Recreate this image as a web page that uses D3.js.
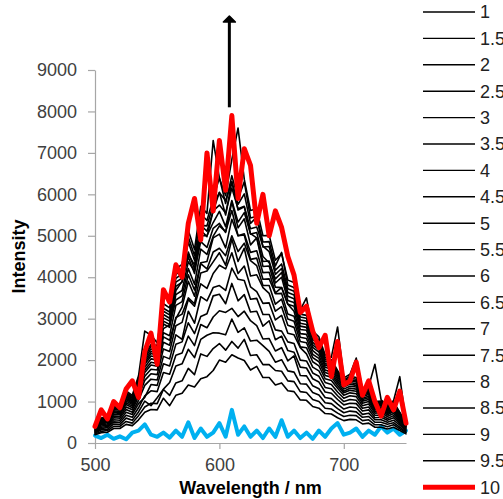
<!DOCTYPE html>
<html>
<head>
<meta charset="utf-8">
<script src="https://cdn.jsdelivr.net/npm/d3@7"></script>
<style>
  body { margin: 0; background: #fff; }
  svg { font-family: "Liberation Sans", Arial, sans-serif; }
</style>
</head>
<body>
<svg id="chart"></svg>
<script>
const wavelength = [500,505,510,515,520,525,530,535,540,545,550,555,560,565,570,575,580,585,590,595,600,605,610,615,620,625,630,635,640,645,650,655,660,665,670,675,680,685,690,695,700,705,710,715,720,725,730,735,740,745,750];

const int_0 = [180,120,200,100,160,90,250,300,450,200,150,250,130,300,150,500,120,350,150,250,480,150,800,200,400,150,300,120,350,150,550,150,300,120,250,100,300,150,350,480,200,250,350,150,300,200,400,250,350,200,300];
const int_1 = [200,250,260,350,350,450,420,560,740,810,800,1080,900,1150,1200,1400,1350,1550,1600,1750,2000,1950,2130,2050,1990,1760,1850,1580,1580,1400,1450,1260,1240,1040,1030,880,840,710,700,610,540,570,560,460,480,380,380,340,380,300,220];
const int_1_5 = [220,280,300,400,400,520,480,660,870,960,950,1290,1150,1450,1500,1800,1650,2150,2090,2280,2400,2240,2450,2290,2500,2110,2130,1890,1890,1750,1730,1500,1480,1240,1220,1050,1000,840,820,720,640,670,660,540,560,440,440,390,440,340,250];
const int_2 = [240,320,330,460,450,600,550,750,1010,900,1090,1300,1460,1860,1910,2260,2060,2500,2600,2660,2650,2610,2990,2670,2780,2460,2480,2350,2210,1950,2010,1740,1710,1430,1420,1220,1160,970,950,830,730,770,750,620,640,500,500,450,490,380,270];
const int_2_5 = [260,350,370,510,500,670,620,850,1140,1260,1240,1700,1660,2120,2170,2580,2350,2860,2780,3040,3190,3150,3250,3050,3180,2950,2830,2510,2520,2220,2300,1980,2100,1630,1620,1380,1310,1100,1070,940,820,870,850,690,720,560,560,500,550,430,300];
const int_3 = [280,380,400,560,550,740,690,950,1100,1410,1390,1910,1860,2380,2440,2900,2640,3050,3120,3550,3590,3360,3850,3430,3580,3160,3180,2820,2950,2490,2580,2230,2190,1830,1810,1550,1470,1230,1200,1050,920,960,950,770,800,610,620,550,610,470,320];
const int_3_5 = [290,410,430,610,600,810,740,1030,1390,1540,1520,2090,2030,2610,2500,3180,2890,3530,3430,3750,3800,3680,4220,3950,3920,3470,3490,3100,3100,2730,2700,2440,2400,2000,1980,1690,1610,1340,1310,1140,1000,1050,1030,840,870,670,670,590,660,500,350];
const int_4 = [310,440,460,650,640,870,800,1120,1510,1670,1650,2270,2210,2830,2910,3460,3300,3840,3730,4090,4290,4200,4590,4090,4270,3770,3650,3370,3380,2970,3080,2650,2610,2300,2150,1830,1740,1460,1410,1230,1080,1140,1120,900,940,720,730,640,710,540,370];
const int_4_5 = [320,460,490,690,680,930,850,1190,1610,1780,1760,2430,2360,3030,3110,3500,3360,4100,4150,4370,4590,4290,4920,4380,4700,4030,4060,3750,3610,3180,3290,2840,2790,2320,2300,1960,1860,1550,1510,1320,1150,1210,1190,960,1000,760,770,680,760,570,390];
const int_5 = [340,480,510,730,710,970,890,1250,1700,1880,1850,2560,2480,3000,3280,3900,3540,4330,4200,4610,4700,4520,5000,4620,4820,4400,4280,3800,3800,3350,3470,2990,2940,2450,2420,2060,1960,1630,1590,1380,1210,1270,1250,1010,1050,800,810,710,790,600,400];
const int_5_5 = [350,500,530,750,740,1010,930,1300,1760,1950,1920,2660,2590,3320,3410,4060,3690,4350,4380,4950,5040,4710,5400,5000,5020,4430,4460,3950,3960,3600,3610,3110,3060,2550,2520,2140,2040,1700,1650,1440,1250,1320,1300,1050,1090,830,840,730,820,620,420];
const int_6 = [360,510,540,780,760,1050,960,1350,1830,2030,2000,2760,2850,3450,3550,4210,3830,4680,4550,4990,5240,5100,5610,5000,5050,4600,4640,4110,4120,3620,3750,3350,3180,2640,2620,2230,2110,1760,1710,1490,1300,1370,1350,1080,1130,860,870,760,850,640,430];
const int_6_5 = [370,530,560,810,790,1080,990,1400,1900,2100,2070,2870,2790,3580,3680,4370,4150,4860,4720,5180,5300,5080,5820,5190,5410,4780,4950,4260,4270,3760,3750,3350,3300,2740,2720,2310,2190,1830,1780,1540,1350,1420,1390,1120,1170,890,900,790,880,660,440];
const int_7 = [380,540,570,830,810,1110,1020,1430,1950,2160,2120,2940,2860,3680,3900,4490,4090,5000,5000,5320,5590,5220,5850,5330,5560,5050,4950,4380,4390,3860,4000,3440,3390,2820,2790,2370,2250,1880,1820,1590,1380,1460,1430,1150,1200,910,920,800,900,680,450];
const int_7_5 = [380,550,590,850,830,1140,1040,1470,2000,2210,2180,3020,2940,3780,3880,4610,4200,5130,4980,5600,5740,5550,6150,5650,5710,5040,5080,4500,4350,3960,4110,3540,3480,2890,2860,2430,2310,1920,1870,1630,1420,1500,1470,1180,1230,930,940,820,920,690,460];
const int_8 = [390,560,600,870,850,1170,1070,1500,2050,2270,2230,3100,3010,3880,3980,4550,4300,5260,5110,5600,6050,5500,6310,5620,5700,5170,5210,4750,4620,4070,4210,3630,3570,2970,2940,2500,2370,1970,1920,1670,1450,1530,1500,1210,1260,950,960,840,950,710,470];
const int_8_5 = [400,580,610,890,870,1200,1090,1540,2100,2330,2290,3180,3090,3970,4080,4850,4410,5250,5240,5750,6040,5850,6300,5760,6010,5300,5450,4730,4740,4170,4320,3720,3660,3040,3010,2560,2430,2020,1960,1710,1490,1570,1540,1240,1290,980,990,860,970,730,480];
const int_9 = [410,590,620,910,890,1220,1120,1580,2150,2380,2350,3250,3160,4070,4180,4970,4520,5530,5370,5890,6400,5780,6450,5900,6300,5430,5470,4850,4860,4270,4600,3810,3750,3110,3080,2620,2490,2070,2010,1750,1520,1610,1580,1270,1320,1000,1010,880,990,740,490];
const int_9_5 = [420,600,640,930,910,1260,1150,1620,2700,2600,2420,3360,3260,4200,4310,5130,4670,5710,5540,7300,6390,5970,6840,7600,6360,5610,5650,5000,5010,4410,4570,3930,3870,3210,3500,2700,2560,2130,2070,2800,1570,1660,2050,1300,1360,1900,1040,910,1020,1600,500];
const int_10 = [400,800,580,1000,850,1300,1500,1100,2200,2650,1900,3700,3400,4300,4000,5300,5900,4900,7000,5600,7300,6100,7900,5900,7100,6700,5300,6000,5000,5600,5200,4500,4050,3150,3300,2700,2300,2600,1600,2450,1400,1500,1950,1150,1500,1000,650,1100,800,1250,480];

const seriesLabels = ["0","1","1.5","2","2.5","3","3.5","4","4.5","5","5.5","6","6.5","7","7.5","8","8.5","9","9.5","10"];
const seriesValues = [int_0,int_1,int_1_5,int_2,int_2_5,int_3,int_3_5,int_4,int_4_5,int_5,int_5_5,int_6,int_6_5,int_7,int_7_5,int_8,int_8_5,int_9,int_9_5,int_10];

const xTicks = [500,600,700];
const yTicks = [0,1000,2000,3000,4000,5000,6000,7000,8000,9000];

// arrow marking the growing peak (wavelength, from, to)
const arrowWl = 608, arrowFrom = 8100, arrowTo = 10300;

const width = 503;
const height = 499;
const margin = { top: 70, right: 97, bottom: 56, left: 95 };
const chartWidth = width - margin.left - margin.right;
const chartHeight = height - margin.top - margin.bottom;

const svg = d3.select("#chart")
  .attr("width", width)
  .attr("height", height);

const chart = svg.append("g")
  .attr("transform", `translate(${margin.left},${margin.top})`);

const x = d3.scaleLinear().domain([500, 750]).range([0, chartWidth]);
const y = d3.scaleLinear().domain([0, 9000]).range([chartHeight, 0]);

function colorOf(label) {
  if (label === "0") return "#00b0f0";
  if (label === "10") return "#ff0000";
  return "#000";
}
function widthOf(label) {
  if (label === "0") return 4;
  if (label === "10") return 5;
  return 1.6;
}

//axes
const yAxis = chart.append("g")
  .call(d3.axisLeft(y).tickValues(yTicks).tickSize(7).tickPadding(11).tickSizeOuter(0).tickFormat(d3.format("d")));
const xAxis = chart.append("g")
  .attr("transform", `translate(0,${chartHeight})`)
  .call(d3.axisBottom(x).tickValues(xTicks).tickSize(6).tickPadding(9).tickSizeOuter(0).tickFormat(d3.format("d")));

[xAxis, yAxis].forEach(a => {
  a.select(".domain").attr("stroke", "#a6a6a6").attr("stroke-width", 1.2);
  a.selectAll(".tick line").attr("stroke", "#a6a6a6").attr("stroke-width", 1.2);
  a.selectAll(".tick text").attr("fill", "#404040").style("font-size", "18px");
});

//lines
const line = d3.line()
  .x((d, i) => x(wavelength[i]))
  .y(d => y(d));

chart.selectAll(".spectrum")
  .data(seriesValues)
  .enter()
  .append("path")
  .attr("class", "spectrum")
  .attr("fill", "none")
  .attr("stroke", (d, i) => colorOf(seriesLabels[i]))
  .attr("stroke-width", (d, i) => widthOf(seriesLabels[i]))
  .attr("stroke-linejoin", "round")
  .attr("stroke-linecap", "round")
  .attr("d", line);

//arrow
chart.append("line")
  .attr("x1", x(arrowWl)).attr("x2", x(arrowWl))
  .attr("y1", y(arrowFrom)).attr("y2", y(arrowTo) + 4)
  .attr("stroke", "#000")
  .attr("stroke-width", 3);
chart.append("path")
  .attr("d", `M${x(arrowWl) - 6},${y(arrowTo) + 6} L${x(arrowWl)},${y(arrowTo)} L${x(arrowWl) + 6},${y(arrowTo) + 6} Z`)
  .attr("fill", "#000")
  .attr("stroke", "#000")
  .attr("stroke-width", 1.5)
  .attr("stroke-linejoin", "round");

//axis labels
svg.append("text")
  .attr("x", margin.left + chartWidth / 2)
  .attr("y", 494)
  .attr("text-anchor", "middle")
  .style("font-size", "18px")
  .style("font-weight", "bold")
  .attr("fill", "#000")
  .text("Wavelength / nm");

svg.append("text")
  .attr("transform", `translate(25,${margin.top + chartHeight / 2}) rotate(-90)`)
  .attr("text-anchor", "middle")
  .style("font-size", "18px")
  .style("font-weight", "bold")
  .attr("fill", "#000")
  .text("Intensity");

//legend
const legendTop = -14.4;
const legendStep = 26.4;
const legend = svg.selectAll(".legend-item")
  .data(seriesLabels)
  .enter()
  .append("g")
  .attr("class", "legend-item")
  .attr("transform", (d, i) => `translate(423,${legendTop + i * legendStep})`);

legend.append("line")
  .attr("x1", 0).attr("x2", 52)
  .attr("stroke", d => colorOf(d))
  .attr("stroke-width", d => d === "10" ? 5 : 1.4);

legend.append("text")
  .attr("x", 57)
  .attr("dy", "0.35em")
  .style("font-size", "18px")
  .attr("fill", "#222")
  .text(d => d);
</script>
</body>
</html>
